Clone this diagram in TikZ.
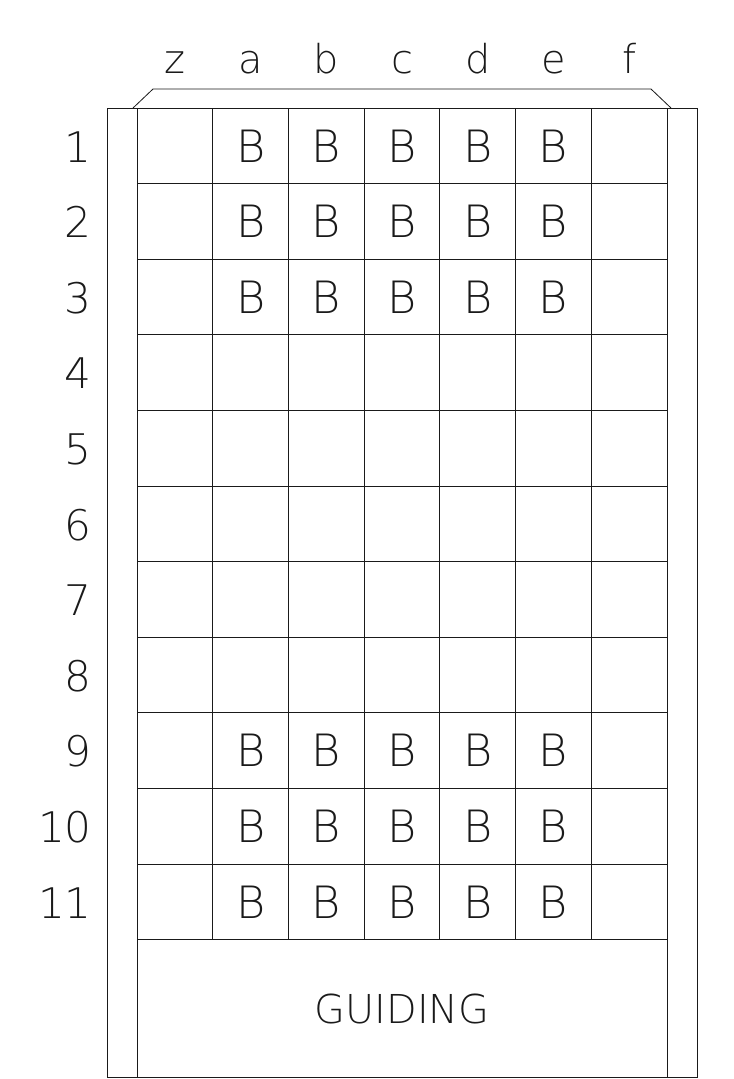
\documentclass[tikz,border=0pt]{standalone}
\usepackage{fontspec}
\setmainfont{DejaVu Sans ExtraLight}
\definecolor{ink}{HTML}{1A1A1A}

\tikzset{
  label text/.style={anchor=base, text=ink, font=\fontsize{34}{34}\selectfont},
  cell text/.style={anchor=base, text=ink, font=\fontsize{38}{38}\selectfont},
  row text/.style={anchor=base east, text=ink, font=\fontsize{36}{36}\selectfont},
}

\begin{document}
\begin{tikzpicture}[x=0.03cm, y=-0.03cm, line width=0.7pt]
  \useasboundingbox (0,0) rectangle (734,1079);

  % Frame
  \draw[draw=ink] (107,108) rectangle (697,1077);
  \draw[draw=ink] (137,108) -- (137,1077);
  \draw[draw=ink] (667,108) -- (667,1077);

  % Top bracket
  \draw[draw=ink] (133,108) -- (153,89) -- (651,89) -- (671,108);

  % Grid
  \foreach \i in {0,...,11}
    \draw[draw=ink] (137,108+75.6*\i) -- (667,108+75.6*\i);
  \foreach \j in {1,...,6}
    \draw[draw=ink] (137+75.7*\j,108) -- (137+75.7*\j,940);

  % Column letters
  \foreach \c [count=\k from 0] in {z,a,b,c,d,e,f}
    \node[label text] (col-\c) at (175+75.7*\k,73) {\c};

  % Row numbers
  \foreach \r in {1,...,11}
    \node[row text] (row-\r) at (96,162+75.6*\r-75.6) {\r};

  % B cells
  \foreach \r in {1,2,3,9,10,11}
    \foreach \k in {1,...,5}
      \node[cell text] (b-\r-\k) at (175+75.7*\k,162+75.6*\r-75.6) {B};

  % Guiding area
  \node[label text] (guiding) at (402,1023) {GUIDING};
\end{tikzpicture}
\end{document}
